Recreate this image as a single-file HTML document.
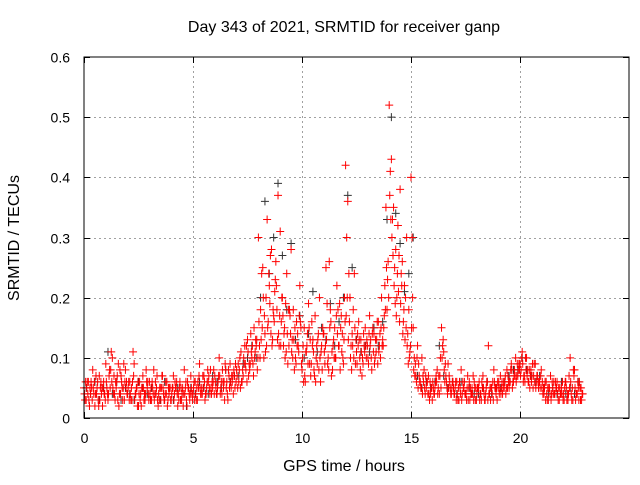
<!DOCTYPE html>
<html><head><meta charset="utf-8"><style>
body{margin:0;background:#fff;}
svg text{font-family:"Liberation Sans",sans-serif;font-size:14px;fill:#000;}
svg text.big{font-size:16px;}
</style></head><body>
<svg id="chart" width="640" height="480">
<rect width="640" height="480" fill="#fff"/>
<text class="big" x="344" y="32" text-anchor="middle">Day 343 of 2021, SRMTID for receiver ganp</text>
<text class="big" x="344" y="471" text-anchor="middle">GPS time / hours</text>
<text class="big" transform="translate(19,238) rotate(-90)" text-anchor="middle">SRMTID / TECUs</text>
<g id="grid"></g>
<g id="ticks"></g>
<g id="black"></g>
<g id="red"></g>
<rect x="84" y="57" width="545" height="361" fill="none" stroke="#000" stroke-width="1"/>
</svg>
<script>
const xTicks=[0,5,10,15,20];
const yTicks=[0,0.1,0.2,0.3,0.4,0.5,0.6];
const yTickLabels=["0","0.1","0.2","0.3","0.4","0.5","0.6"];
const red1=[0.05,0.03,0.06,0.04,0.08,0.02,0.05,0.07,0.04,0.06,
0.09,0.03,0.05,0.10,0.04,0.06,0.02,0.07,0.05,0.08,
0.04,0.06,0.03,0.09,0.05,0.02,0.04,0.07,0.03,0.05,
0.06,0.03,0.08,0.04,0.02,0.05,0.07,0.03,0.06,0.04,
0.03,0.07,0.05,0.02,0.06,0.04,0.08,0.03,0.05,0.07,
0.04,0.06,0.03,0.09,0.05,0.07,0.04,0.06,0.08,0.05,
0.07,0.04,0.10,0.06,0.05,0.08,0.03,0.09,0.06,0.07,
0.08,0.06,0.11,0.07,0.09,0.13,0.08,0.10,0.15,0.12,
0.30,0.18,0.25,0.14,0.33,0.22,0.28,0.17,0.26,0.37,
0.31,0.20,0.15,0.24,0.12,0.28,0.18,0.10,0.14,0.22,
0.08,0.15,0.11,0.19,0.07,0.13,0.17,0.09,0.20,0.12,
0.14,0.25,0.10,0.18,0.08,0.15,0.22,0.12,0.17,0.09,
0.42,0.36,0.20,0.14,0.24,0.11,0.16,0.13,0.09,0.15,
0.12,0.17,0.08,0.14,0.11,0.16,0.10,0.13,0.22,0.18,
0.52,0.43,0.35,0.28,0.32,0.38,0.26,0.22,0.30,0.18,
0.40,0.15,0.09,0.12,0.06,0.10,0.08,0.05,0.07,0.04,
0.06,0.05,0.08,0.04,0.15,0.11,0.07,0.09,0.05,0.06,
0.04,0.06,0.03,0.08,0.05,0.04,0.07,0.03,0.05,0.06,
0.03,0.05,0.04,0.07,0.03,0.06,0.04,0.05,0.08,0.04,
0.05,0.07,0.04,0.06,0.08,0.05,0.09,0.06,0.10,0.07,
0.09,0.11,0.07,0.10,0.06,0.08,0.05,0.09,0.07,0.06,
0.05,0.04,0.06,0.03,0.07,0.05,0.04,0.06,0.03,0.05,
0.04,0.06,0.03,0.10,0.05,0.08,0.04,0.03,0.05];
const red2=[0.03,0.06,0.02,0.05,0.04,0.07,0.03,0.05,0.02,0.04,
0.05,0.07,0.11,0.04,0.06,0.03,0.08,0.05,0.03,0.06,
0.06,0.03,0.11,0.04,0.02,0.06,0.05,0.03,0.08,0.04,
0.03,0.05,0.04,0.07,0.03,0.05,0.04,0.06,0.03,0.05,
0.05,0.04,0.06,0.03,0.05,0.02,0.05,0.06,0.03,0.04,
0.06,0.03,0.05,0.04,0.07,0.03,0.06,0.05,0.04,0.08,
0.05,0.06,0.04,0.08,0.03,0.06,0.07,0.05,0.04,0.09,
0.05,0.10,0.06,0.09,0.12,0.07,0.14,0.09,0.11,0.08,
0.12,0.24,0.10,0.20,0.16,0.27,0.13,0.21,0.18,0.12,
0.16,0.12,0.19,0.09,0.17,0.13,0.08,0.16,0.11,0.15,
0.12,0.06,0.14,0.09,0.16,0.08,0.10,0.14,0.06,0.15,
0.09,0.19,0.26,0.07,0.13,0.10,0.18,0.08,0.14,0.20,
0.30,0.24,0.12,0.18,0.09,0.14,0.10,0.07,0.12,0.10,
0.09,0.13,0.15,0.10,0.16,0.12,0.20,0.15,0.35,0.26,
0.41,0.33,0.25,0.20,0.27,0.24,0.16,0.20,0.14,0.11,
0.30,0.10,0.06,0.09,0.05,0.07,0.04,0.06,0.03,0.05,
0.04,0.07,0.05,0.10,0.12,0.06,0.05,0.07,0.04,0.05,
0.06,0.03,0.05,0.04,0.06,0.03,0.05,0.04,0.07,0.03,
0.05,0.03,0.06,0.04,0.05,0.12,0.03,0.06,0.05,0.03,
0.04,0.05,0.06,0.04,0.07,0.06,0.05,0.08,0.07,0.09,
0.08,0.06,0.10,0.08,0.05,0.07,0.09,0.06,0.05,0.07,
0.04,0.06,0.03,0.05,0.04,0.06,0.05,0.03,0.04,0.06,
0.05,0.03,0.07,0.04,0.08,0.03,0.06,0.05,0.04];
const red3=[0.04,0.05,0.03,0.06,0.05,0.04,0.06,0.03,0.05,0.04,
0.06,0.04,0.08,0.05,0.03,0.07,0.04,0.06,0.09,0.05,
0.05,0.04,0.06,0.03,0.05,0.04,0.02,0.05,0.04,0.06,
0.04,0.06,0.03,0.05,0.04,0.03,0.05,0.04,0.02,0.05,
0.04,0.03,0.05,0.04,0.03,0.05,0.04,0.02,0.04,0.05,
0.05,0.04,0.06,0.05,0.04,0.06,0.05,0.07,0.05,0.06,
0.06,0.05,0.07,0.04,0.06,0.05,0.08,0.06,0.07,0.05,
0.07,0.08,0.06,0.10,0.08,0.11,0.09,0.12,0.10,0.13,
0.16,0.13,0.20,0.11,0.15,0.19,0.12,0.16,0.22,0.14,
0.12,0.17,0.10,0.14,0.18,0.11,0.13,0.09,0.12,0.16,
0.10,0.07,0.12,0.15,0.09,0.11,0.06,0.13,0.10,0.08,
0.11,0.13,0.08,0.16,0.12,0.10,0.14,0.19,0.11,0.13,
0.17,0.13,0.10,0.12,0.15,0.09,0.13,0.11,0.14,0.12,
0.10,0.12,0.14,0.09,0.13,0.11,0.15,0.12,0.18,0.23,
0.37,0.30,0.22,0.17,0.21,0.19,0.14,0.13,0.12,0.10,
0.15,0.08,0.07,0.05,0.06,0.04,0.05,0.06,0.04,0.05,
0.05,0.06,0.04,0.07,0.10,0.08,0.06,0.05,0.04,0.06,
0.05,0.04,0.06,0.03,0.05,0.04,0.03,0.05,0.04,0.05,
0.04,0.06,0.03,0.05,0.04,0.03,0.05,0.04,0.06,0.05,
0.06,0.04,0.05,0.07,0.05,0.06,0.08,0.07,0.06,0.08,
0.07,0.09,0.06,0.07,0.08,0.06,0.07,0.05,0.06,0.05,
0.06,0.05,0.04,0.05,0.03,0.04,0.06,0.04,0.05,0.04,
0.03,0.05,0.04,0.06,0.03,0.05,0.04,0.06,0.03];
const red4=[0.06,0.04,0.05,0.03,0.06,0.04,0.02,0.06,0.05,0.03,
0.04,0.08,0.06,0.07,0.05,0.09,0.04,0.03,0.06,0.04,
0.03,0.05,0.07,0.04,0.06,0.03,0.05,0.04,0.06,0.03,
0.05,0.04,0.06,0.03,0.05,0.07,0.03,0.04,0.05,0.03,
0.05,0.06,0.04,0.05,0.03,0.04,0.06,0.05,0.04,0.03,
0.03,0.05,0.07,0.04,0.05,0.04,0.08,0.04,0.06,0.04,
0.04,0.07,0.05,0.06,0.09,0.04,0.05,0.07,0.08,0.06,
0.09,0.05,0.08,0.12,0.06,0.09,0.11,0.07,0.13,0.10,
0.10,0.15,0.17,0.12,0.24,0.14,0.18,0.23,0.13,0.17,
0.20,0.14,0.11,0.18,0.14,0.10,0.15,0.12,0.17,0.09,
0.06,0.11,0.09,0.13,0.12,0.07,0.12,0.08,0.11,0.14,
0.12,0.09,0.15,0.11,0.10,0.17,0.12,0.15,0.10,0.16,
0.20,0.16,0.08,0.10,0.13,0.12,0.08,0.10,0.11,0.13,
0.14,0.10,0.11,0.13,0.09,0.14,0.12,0.17,0.25,0.20,
0.33,0.27,0.19,0.24,0.16,0.22,0.18,0.15,0.09,0.12,
0.20,0.07,0.10,0.07,0.05,0.06,0.07,0.04,0.06,0.03,
0.04,0.06,0.07,0.05,0.13,0.09,0.04,0.06,0.05,0.04,
0.03,0.05,0.04,0.06,0.04,0.05,0.06,0.04,0.03,0.05,
0.05,0.04,0.05,0.03,0.06,0.04,0.05,0.03,0.05,0.06,
0.05,0.06,0.05,0.05,0.06,0.08,0.06,0.07,0.09,0.08,
0.10,0.07,0.08,0.06,0.07,0.09,0.06,0.07,0.06,0.08,
0.05,0.03,0.05,0.04,0.06,0.04,0.05,0.05,0.04,0.03,
0.06,0.04,0.05,0.03,0.07,0.04,0.05,0.03,0.04];
const black1=[0.05,0.04,0.06,0.03,0.05,0.11,0.04,0.06,0.03,0.05,
0.04,0.03,0.06,0.05,0.04,0.05,0.04,0.03,0.06,0.04,
0.03,0.05,0.04,0.02,0.05,0.04,0.06,0.05,0.04,0.07,
0.06,0.05,0.08,0.06,0.07,0.07,0.09,0.10,0.12,0.10,
0.20,0.36,0.24,0.30,0.39,0.27,0.18,0.29,0.13,0.17,
0.10,0.14,0.21,0.11,0.15,0.13,0.19,0.12,0.16,0.20,
0.37,0.25,0.13,0.11,0.12,0.11,0.15,0.12,0.16,0.33,
0.50,0.34,0.29,0.21,0.24,0.30,0.07,0.05,0.06,0.05,
0.06,0.12,0.07,0.05,0.06,0.04,0.06,0.04,0.05,0.04,
0.04,0.05,0.06,0.04,0.05,0.05,0.06,0.07,0.08,0.08,
0.10,0.08,0.07,0.06,0.07,0.05,0.04,0.05,0.04,0.06,
0.04,0.05,0.04,0.06];
const X0=84,X1=629,Y0=418,Y1=57,XMAX=25,YMAX=0.6;
function sx(t){return X0+(X1-X0)*t/XMAX;}
function sy(v){return Y0-(Y0-Y1)*v/YMAX;}
const NS="http://www.w3.org/2000/svg";
const grid=document.getElementById('grid'),ticks=document.getElementById('ticks');
function line(g,x1,y1,x2,y2,st,dash){const l=document.createElementNS(NS,'line');
l.setAttribute('x1',x1);l.setAttribute('y1',y1);l.setAttribute('x2',x2);l.setAttribute('y2',y2);
l.setAttribute('stroke',st);l.setAttribute('stroke-width',1);if(dash)l.setAttribute('stroke-dasharray',dash);g.appendChild(l);return l;}
function txt(x,y,s,anchor){const t=document.createElementNS(NS,'text');t.setAttribute('x',x);t.setAttribute('y',y);t.setAttribute('text-anchor',anchor);t.textContent=s;ticks.appendChild(t);return t;}
xTicks.forEach(v=>{const x=Math.round(sx(v))+0.5;
 if(v>0){const g=line(grid,x,Y0,x,Y1,'#a0a0a0','2,3');}
 line(ticks,x,Y0,x,Y0-6,'#000');line(ticks,x,Y1,x,Y1+6,'#000');
 const t=txt(x,443,String(v),'middle');
 
 
});
yTicks.forEach((v,i)=>{const y=Math.round(sy(v))+0.5;
 if(v>0&&v<YMAX){const g=line(grid,X0,y,X1,y,'#a0a0a0','2,3');}
 line(ticks,X0,y,X0+6,y,'#000');line(ticks,X1,y,X1-6,y,'#000');
 const t=txt(70,y+5,yTickLabels[i],'end');
 
 
});
function plus(g,t,v,col){const x=sx(t),y=sy(v);const p=document.createElementNS(NS,'path');
 p.setAttribute('d',`M${x-4},${y}H${x+4}M${x},${y-4}V${y+4}`);p.setAttribute('stroke',col);p.setAttribute('stroke-width',1);p.setAttribute('fill','none');
 
 
 g.appendChild(p);}
const gb=document.getElementById('black'),gr=document.getElementById('red');
black1.forEach((v,i)=>plus(gb,Math.floor(i/5)+(i%5)*0.2+0.1,v,'#333'));
red1.forEach((v,i)=>plus(gr,i*0.1,v,'#ff0000'));
red2.forEach((v,i)=>plus(gr,i*0.1+0.05,v,'#ff0000'));
red3.forEach((v,i)=>plus(gr,i*0.1+0.025,v,'#ff0000'));
red4.forEach((v,i)=>plus(gr,i*0.1+0.075,v,'#ff0000'));
</script>
</body></html>
